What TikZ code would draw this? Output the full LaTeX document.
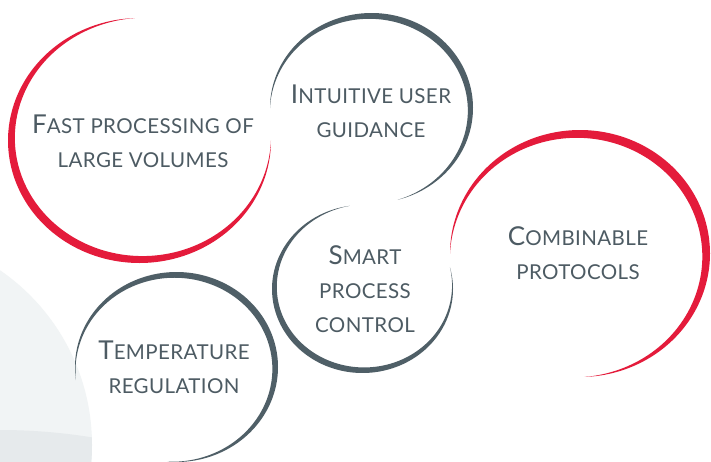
\documentclass[tikz,border=0pt]{standalone}
\usepackage{fontspec}
\setmainfont{Lato}[LetterSpace=2]
\definecolor{ringred}{HTML}{E41B3B}
\definecolor{ringgray}{HTML}{4F5F67}
\definecolor{labelgray}{HTML}{4D5B63}
\definecolor{haze}{HTML}{F1F4F5}
\definecolor{hazedark}{HTML}{E6EAEC}
% small capitals built by hand: large initial, smaller rest
\newcommand\initialcap[1]{{\fontsize{26}{34}\selectfont #1}}
% tapered ring: colour, cx, cy, rx, ry, start angle, end angle, max width
\newcommand\taperring[8]{%
  \fill[#1] plot[domain=#6:#7, samples=150, variable=\ang]
      ({#2+#4*cos(\ang)},{#3-#5*sin(\ang)})
    -- plot[domain=#7:#6, samples=150, variable=\ang]
      ({#2+(#4-#8*sin((\ang-(#6))/((#7)-(#6))*180))*cos(\ang)},
       {#3-(#5-#8*sin((\ang-(#6))/((#7)-(#6))*180))*sin(\ang)})
    -- cycle;}
\tikzset{
  ringlabel/.style={text=labelgray, align=center, anchor=base,
    font=\fontsize{20.5}{34}\selectfont, inner sep=0pt}
}
\begin{document}
\begin{tikzpicture}[x=1pt, y=-1pt]
  \useasboundingbox (0,0) rectangle (711,461);
  \fill[white] (0,0) rectangle (711,461);
  % soft background discs
  \begin{scope}
    \clip (0,0) rectangle (711,461);
    \fill[haze] (-120,445) circle[radius=212];
    \begin{scope}
      \clip (-120,445) circle[radius=212];
      \fill[hazedark] (0,1000) circle[radius=570];
    \end{scope}
  \end{scope}
  % rings
  \taperring{ringred}{139.5}{140.5}{131.5}{122.5}{92}{360}{8}
  \taperring{ringgray}{371.5}{108}{101.5}{95}{-75}{180}{6.5}
  \taperring{ringgray}{362.5}{289}{90.5}{84}{98}{375}{6}
  \taperring{ringred}{580}{253.5}{130}{123.5}{-88}{180}{9}
  \taperring{ringgray}{176.5}{367}{101.5}{95}{-95}{188}{6.5}
  % labels (anchored on the baseline of the last line)
  \node[ringlabel] (fast) at (143,167) {\initialcap{F}AST PROCESSING OF\\LARGE VOLUMES};
  \node[ringlabel] (intuitive) at (371,137) {\initialcap{I}NTUITIVE USER\\GUIDANCE};
  \node[ringlabel] (smart) at (365,332) {\initialcap{S}MART\\PROCESS\\CONTROL};
  \node[ringlabel] (combinable) at (578,279) {\initialcap{C}OMBINABLE\\PROTOCOLS};
  \node[ringlabel] (temperature) at (174,393) {\initialcap{T}EMPERATURE\\REGULATION};
\end{tikzpicture}
\end{document}
